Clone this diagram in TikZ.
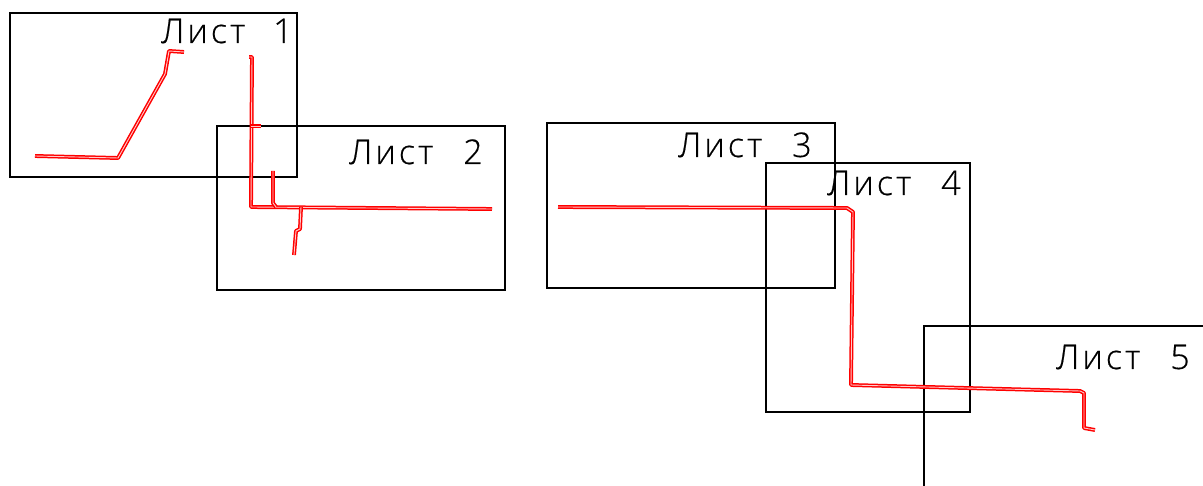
\documentclass[tikz,border=0pt]{standalone}
\usepackage{fontspec}
\usepackage{xcolor}
\setmainfont[LetterSpace=9,FakeBold=0.5]{Open Sans Light}

\begin{document}
\begin{tikzpicture}[x=1pt,y=-1pt]
\tikzset{sheet/.style={draw=black,line width=1.6pt,inner sep=0pt,outer sep=0pt,anchor=north west}}
\tikzset{sheetname/.style={font=\fontsize{34pt}{34pt}\selectfont,inner sep=0pt,anchor=base west}}
\tikzset{route/.style={draw=red,line width=3.9pt,line join=bevel,postaction={draw=red!20!white,line width=0.9pt}}}

\useasboundingbox (0,0) rectangle (1203,486);

% sheets
\node[sheet,minimum width=287pt,minimum height=164pt] (sheetA) at (10,13) {};
\node[sheet,minimum width=288pt,minimum height=164pt] (sheetB) at (217,126) {};
\node[sheet,minimum width=288pt,minimum height=165pt] (sheetC) at (547,123) {};
\node[sheet,minimum width=204pt,minimum height=249pt] (sheetD) at (766,163) {};
\draw[black,line width=1.6pt] (1203,326) -- (924,326) -- (924,486);

% names
\node[sheetname] (nameA) at (161,43) {Лист\hspace{28pt}1};
\node[sheetname] (nameB) at (349,164) {Лист\hspace{30pt}2};
\node[sheetname] (nameC) at (678,157) {Лист\hspace{30pt}3};
\node[sheetname] (nameD) at (827,195) {Лист\hspace{30pt}4};
\node[sheetname] (nameE) at (1056,369) {Лист\hspace{30pt}5};

% routes
\draw[route] (35,156) -- (118,158) -- (165,74) -- (169,51) -- (184,52);
\draw[route] (249,57) -- (252,57) -- (251,207) -- (492,209);
\draw[route] (251,126) -- (261,126);
\draw[route] (273,171) -- (273,203) -- (276,207);
\draw[route] (301,207) -- (300,229) -- (296,231) -- (294,255);
\draw[route] (558,207) -- (847,208) -- (853,212) -- (851,385) -- (1080,391) -- (1084,393) -- (1084,428) -- (1095,430);

\end{tikzpicture}
\end{document}
